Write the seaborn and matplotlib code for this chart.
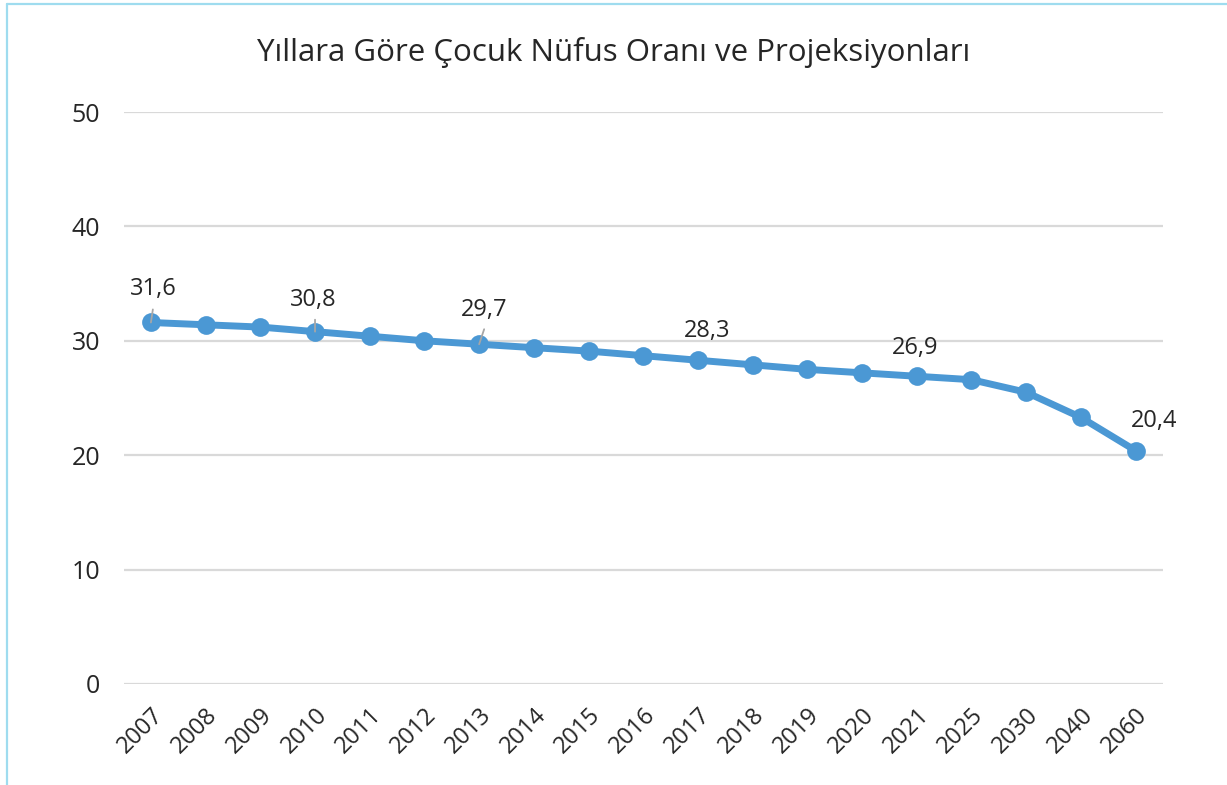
import matplotlib
matplotlib.use("Agg")
import matplotlib.pyplot as plt
from matplotlib.lines import Line2D
import seaborn as sns
import pandas as pd

years = ["2007", "2008", "2009", "2010", "2011", "2012", "2013", "2014", "2015",
         "2016", "2017", "2018", "2019", "2020", "2021", "2025", "2030", "2040", "2060"]
values = [31.6, 31.4, 31.2, 30.8, 30.4, 30.0, 29.7, 29.4, 29.1,
          28.7, 28.3, 27.9, 27.5, 27.2, 26.9, 26.6, 25.5, 23.3, 20.4]
labeled_years = ["2007", "2010", "2013", "2017", "2021", "2060"]
leader_years = ["2007", "2010", "2013"]
title = "Yıllara Göre Çocuk Nüfus Oranı ve Projeksiyonları"

sns.set_theme(style="white")
plt.rcParams["font.family"] = ["Open Sans", "DejaVu Sans"]

text_color = "#262626"
line_color = "#4b98d4"

fig = plt.figure(figsize=(12.27, 7.85), dpi=100)
ax = fig.add_axes([0.1007, 0.1287, 0.8471, 0.7286])

df = pd.DataFrame({"year": years, "value": values})
sns.lineplot(data=df, x="year", y="value", ax=ax, color=line_color, linewidth=5,
             marker="o", markersize=13.5, markeredgewidth=0, sort=False)

ax.set_xlim(-0.5, len(years) - 0.5)
ax.set_ylim(0, 50)
ax.set_yticks([0, 10, 20, 30, 40, 50])
ax.yaxis.grid(True, color="#d9d9d9", linewidth=1.6)
ax.set_axisbelow(True)
for s in ax.spines.values():
    s.set_visible(False)
ax.set_xlabel("")
ax.set_ylabel("")
ax.tick_params(axis="y", length=0, pad=17, labelsize=18, labelcolor=text_color)
ax.tick_params(axis="x", length=0, pad=14, labelsize=17, labelcolor=text_color)
ax.set_xticks(range(len(years)))
ax.set_xticklabels(years, rotation=45, ha="right", rotation_mode="anchor")

# data labels (offsets in points from the marker centre)
offsets = {"2007": (2, 24), "2010": (-1, 23), "2013": (3.6, 24.5), "2017": (6.5, 21),
           "2021": (-1, 20), "2060": (13, 21)}
leader_tops = {"2007": (1.4, 9.4), "2010": (0, 8.6), "2013": (3.6, 10.8)}
for yr in labeled_years:
    i = years.index(yr)
    v = values[i]
    lab = f"{v:.1f}".replace(".", ",")
    dx, dy = offsets[yr]
    ax.annotate(lab, xy=(i, v), xytext=(dx, dy), textcoords="offset points",
                ha="center", va="center", fontsize=17, color=text_color, zorder=5)
    if yr in leader_years:
        ax.annotate("", xy=(i, v), xytext=leader_tops[yr], textcoords="offset points",
                    arrowprops=dict(arrowstyle="-", color="#a6a6a6", lw=1.3,
                                    shrinkA=0, shrinkB=0), zorder=5)

fig.text(0.5, 1 - 53 / 785, title, ha="center", va="center", fontsize=22.5, color=text_color)

# light blue frame
fig.add_artist(Line2D([7 / 1227, 7 / 1227], [0, 1 - 4 / 785], transform=fig.transFigure,
                      color="#9fdcef", linewidth=1.6))
fig.add_artist(Line2D([7 / 1227, 1], [1 - 4 / 785, 1 - 4 / 785], transform=fig.transFigure,
                      color="#9fdcef", linewidth=1.6))

fig.savefig("out.png", dpi=100, facecolor="white")
